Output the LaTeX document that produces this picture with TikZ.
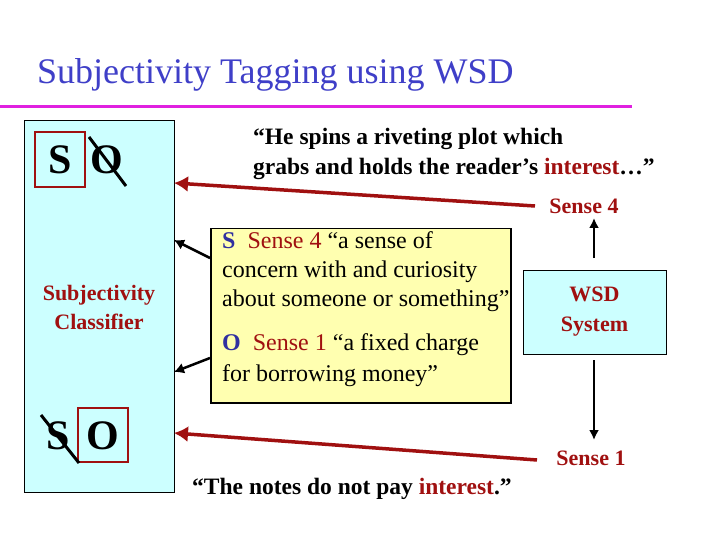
\documentclass[tikz,border=0pt]{standalone}
\usepackage{fontspec}
\setmainfont{Liberation Serif}
\usetikzlibrary{arrows.meta}
\definecolor{ttl}{HTML}{3F3FC8}
\definecolor{pk}{HTML}{E020E0}
\definecolor{drd}{HTML}{A01010}
\definecolor{blu}{HTML}{3030A0}
\definecolor{cy}{HTML}{CCFFFF}
\definecolor{yl}{HTML}{FFFFB0}
\begin{document}
\begin{tikzpicture}[x=1pt,y=-1pt,
 redarr/.style={draw=drd,line width=3.5pt,-{Latex[length=14pt,width=16pt]}},
 blkarr/.style={draw=black,line width=2.5pt,-{Latex[length=10pt,width=11pt]}},
 thinarr/.style={draw=black,line width=2pt,-{Latex[length=10pt,width=10pt]}},
 big/.style={font=\fontsize{42}{42}\selectfont\bfseries,inner sep=0pt},
 redbox/.style={draw=drd,line width=2.5pt},
 slash/.style={line width=3pt}]
\useasboundingbox (0,0) rectangle (720,540);
\node[anchor=west,text=ttl,font=\fontsize{36}{36}\selectfont,inner sep=0pt] (title) at (37,75) {Subjectivity Tagging using WSD};
\draw[pk,line width=3pt] (0,107) -- (632,107);
% left box
\draw[fill=cy,line width=0.8pt] (24,120) rectangle (174,492);
\coordinate (Lt) at (174,183); \coordinate (Lb) at (174,433);
\coordinate (L1) at (174,240); \coordinate (L2) at (174,372);
\node[big] (s1) at (60,160) {S};
\node[big] (o1) at (107,160) {O};
\draw[redbox] (35,132) rectangle (85,187);
\draw[slash] (89,137) -- (126,186);
\node[big] (s2) at (58,436) {S};
\node[big] (o2) at (103,436) {O};
\draw[redbox] (78,408) rectangle (128,462);
\draw[slash] (41,415) -- (79,463);
\node[align=center,text=drd,font=\fontsize{22}{29}\selectfont\bfseries] (clf) at (99,307) {Subjectivity\\Classifier};
% quotes
\node[align=left,anchor=north west,font=\fontsize{23.5}{30}\selectfont\bfseries,inner sep=0pt] (q1) at (253,128) {``He spins a riveting plot which\\grabs and holds the reader's \textcolor{drd}{interest}\ldots''};
\node[anchor=west,font=\fontsize{23.5}{24}\selectfont\bfseries,inner sep=0pt] (q2) at (192,489) {``The notes do not pay \textcolor{drd}{interest}.''};
\node[text=drd,font=\fontsize{22}{22}\selectfont\bfseries,inner sep=0pt] (s4) at (584,206) {Sense 4};
\node[text=drd,font=\fontsize{22}{22}\selectfont\bfseries,inner sep=0pt] (s1n) at (591,458) {Sense 1};
\draw[redarr] (535,206) -- (Lt);
\draw[redarr] (537,460) -- (Lb);
% middle box
\node[draw,fill=yl,line width=1.5pt,minimum width=300pt,minimum height=174pt,anchor=north west] (mid) at (210,228) {};
\node[anchor=north west,align=left,inner sep=0pt,font=\fontsize{24}{29}\selectfont] (mt) at (222,231)
{\textcolor{blu}{\bfseries S}\ \ \textcolor{drd}{Sense 4} ``a sense of\\concern with and curiosity\\about someone or something''};
\node[anchor=north west,align=left,inner sep=0pt,font=\fontsize{24}{31}\selectfont] (mb) at (222,333)
{\textcolor{blu}{\bfseries O}\ \ \textcolor{drd}{Sense 1} ``a fixed charge\\for borrowing money''};
\draw[blkarr] (210,258) -- (L1);
\draw[blkarr] (210,358) -- (L2);
% WSD box
\node[draw,fill=cy,line width=0.8pt,minimum width=143pt,minimum height=84pt,align=center,text=drd,font=\fontsize{22}{30}\selectfont\bfseries] (wsd) at (594.5,312) {WSD\\System};
\coordinate (u1) at (594,258); \coordinate (u2) at (594,218);
\coordinate (d1) at (594,360); \coordinate (d2) at (594,440);
\draw[thinarr] (u1) -- (u2);
\draw[thinarr] (d1) -- (d2);
\end{tikzpicture}
\end{document}
